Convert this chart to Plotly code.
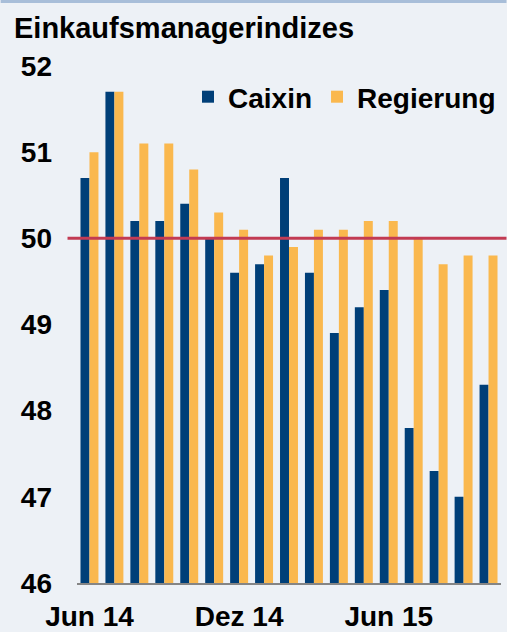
import plotly.graph_objects as go

months = ["Jun 14", "Jul 14", "Aug 14", "Sep 14", "Okt 14", "Nov 14", "Dez 14",
          "Jan 15", "Feb 15", "Mär 15", "Apr 15", "Mai 15", "Jun 15",
          "Jul 15", "Aug 15", "Sep 15", "Okt 15"]
caixin = [50.7, 51.7, 50.2, 50.2, 50.4, 50.0, 49.6, 49.7, 50.7, 49.6,
          48.9, 49.2, 49.4, 47.8, 47.3, 47.0, 48.3]
regierung = [51.0, 51.7, 51.1, 51.1, 50.8, 50.3, 50.1, 49.8, 49.9, 50.1,
             50.1, 50.2, 50.2, 50.0, 49.7, 49.8, 49.8]
tick_months = ["Jun 14", "Dez 14", "Jun 15"]
y_ticks = [46, 47, 48, 49, 50, 51, 52]

FONT = "Liberation Sans, Arial, sans-serif"
BG = "#EDF1F6"
NAVY = "#003F78"
GOLD = "#FAB84E"

fig = go.Figure()
fig.add_trace(go.Bar(name="Caixin", x=months, y=caixin, marker_color=NAVY,
                     marker_line_width=0))
fig.add_trace(go.Bar(name="Regierung", x=months, y=regierung, marker_color=GOLD,
                     marker_line_width=0))

W, H = 507, 632
ml, mr, mt, mb = 76.5, 5.5, 66, 49
pw = W - ml - mr
ph = H - mt - mb

fig.update_layout(
    width=W, height=H,
    margin=dict(l=ml, r=mr, t=mt, b=mb, pad=0, autoexpand=False),
    paper_bgcolor=BG, plot_bgcolor=BG,
    barmode="group", bargap=0.28, bargroupgap=0,
    font=dict(family=FONT, size=28, color="#000000", weight="bold"),
    title=dict(text="Einkaufsmanagerindizes", x=14 / W, xanchor="left",
               xref="container", y=1 - 28 / H, yanchor="middle",
               font=dict(family=FONT, size=29, color="#000000", weight="bold")),
    showlegend=True,
    legend=dict(orientation="h", x=1.0, xanchor="right", y=1 - 31 / ph,
                yanchor="middle", bgcolor="rgba(0,0,0,0)",
                font=dict(family=FONT, size=28, color="#000000", weight="bold"),
                itemclick=False, traceorder="normal"),
    xaxis=dict(type="category", categoryorder="array", categoryarray=months,
               range=[-0.5, len(months) - 0.5], automargin=False,
               tickmode="array", tickvals=tick_months, ticktext=tick_months,
               ticks="", showgrid=False, zeroline=False,
               showline=True, linecolor="#858585", linewidth=2,
               tickfont=dict(family=FONT, size=28, color="#000000", weight="bold"),
               ticklabelstandoff=7),
    yaxis=dict(range=[46, 52], tickmode="array", tickvals=y_ticks,
               automargin=False,
               ticks="", showgrid=False, zeroline=False, showline=False,
               tickfont=dict(family=FONT, size=28, color="#000000", weight="bold"),
               ticklabelstandoff=24),
)

# 50-line reference
fig.add_shape(type="line", xref="paper", yref="y",
              x0=-9.5 / pw, x1=(W - ml) / pw, y0=50, y1=50,
              line=dict(color="#C23B53", width=3), layer="above")
# top border of the panel
top_y = (H - mb - 1.5) / ph
fig.add_shape(type="line", xref="paper", yref="paper",
              x0=-ml / pw, x1=(W - ml) / pw, y0=top_y, y1=top_y,
              line=dict(color="#A8BED9", width=3), layer="above")

fig.write_html("out.html",
               config={"displayModeBar": False},
               post_script="document.body.style.margin='0';"
                           "document.body.style.overflow='hidden';")
